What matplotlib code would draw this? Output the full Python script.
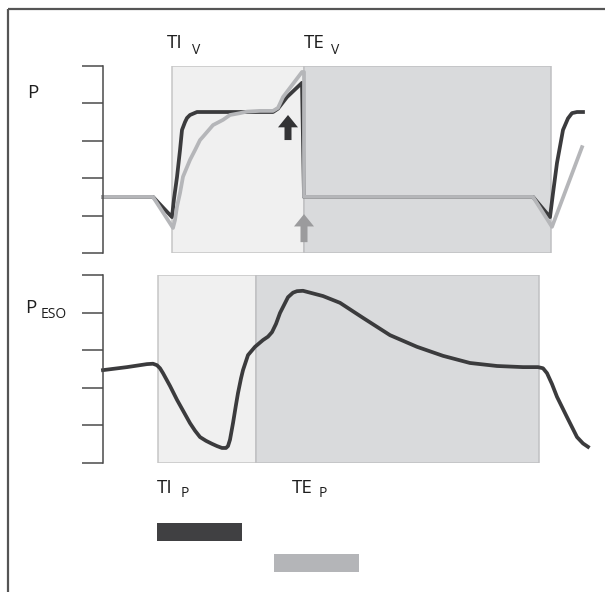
import matplotlib
matplotlib.use("Agg")
import matplotlib.pyplot as plt

plt.rcParams['font.family'] = ['Open Sans', 'DejaVu Sans']

W, H = 605, 592
DARK = "#3b3b3d"
LIGHT = "#b5b6b9"
AXC = "#4a4a4a"
TXT = "#1e1e1e"

# time axis (arbitrary units), pressure in tick units 0..5
t_ventilator = [0.00, 0.50, 0.69, 0.71, 0.74, 0.77, 0.79, 0.82, 0.84, 0.87, 0.94,
                1.70, 1.75, 1.84, 1.99, 2.01, 4.30, 4.47, 4.50, 4.54, 4.60,
                4.65, 4.69, 4.74, 4.80]
p_fast = [1.50, 1.50, 0.96, 1.45, 2.03, 2.75, 3.29, 3.50, 3.61, 3.69, 3.77,
          3.77, 3.86, 4.17, 4.55, 1.50, 1.50, 0.96, 1.60, 2.41, 3.29,
          3.60, 3.74, 3.77, 3.77]

t_slow = [0.00, 0.50, 0.70, 0.72, 0.74, 0.77, 0.80, 0.87, 0.92, 0.97, 1.00,
          1.10, 1.20, 1.27, 1.37, 1.44, 1.57, 1.70, 1.75, 1.80, 1.99, 2.01,
          2.01, 4.30, 4.49, 4.79]
p_slow = [1.50, 1.50, 0.67, 0.88, 1.24, 1.60, 2.04, 2.49, 2.75, 3.02, 3.11,
          3.42, 3.56, 3.69, 3.74, 3.78, 3.80, 3.80, 3.88, 4.17, 4.84, 4.84,
          1.50, 1.50, 0.70, 2.83]

t_eso = [0.00, 0.24, 0.44, 0.50, 0.54, 0.57, 0.60, 0.67, 0.74, 0.87, 0.92,
         0.97, 1.03, 1.09, 1.14, 1.19, 1.23, 1.25, 1.27, 1.30, 1.33, 1.35,
         1.38, 1.40, 1.45, 1.52, 1.60, 1.65, 1.69, 1.73, 1.77, 1.85, 1.90,
         1.94, 2.00, 2.20, 2.37, 2.60, 2.87, 3.14, 3.40, 3.67, 3.94, 4.20,
         4.35, 4.40, 4.44, 4.49, 4.54, 4.64, 4.74, 4.80, 4.85]
p_eso = [2.47, 2.55, 2.63, 2.64, 2.60, 2.52, 2.39, 2.05, 1.68, 1.06, 0.86,
         0.69, 0.59, 0.51, 0.45, 0.40, 0.40, 0.45, 0.62, 1.06, 1.55, 1.86,
         2.25, 2.47, 2.87, 3.09, 3.27, 3.36, 3.48, 3.70, 3.99, 4.41, 4.53,
         4.57, 4.58, 4.44, 4.26, 3.86, 3.40, 3.09, 2.85, 2.66, 2.58, 2.55,
         2.55, 2.52, 2.39, 2.10, 1.76, 1.22, 0.69, 0.52, 0.43]

# phases: (start, end)
vent_insp = (0.69, 2.01)
vent_exp = (2.01, 4.48)
pat_insp = (0.55, 1.53)
pat_exp = (1.53, 4.36)

# arrows: x, base, tip
arrow_x = [1.85, 2.01]
arrow_base = [3.02, 0.29]
arrow_tip = [3.69, 1.04]

# time bars below
bar_left = [0.54, 1.71]
bar_width = [0.85, 0.85]

ticks = [0, 1, 2, 3, 4, 5]
XMAX = 5.02

fig = plt.figure(figsize=(W / 100, H / 100), dpi=100)

bg = fig.add_axes([0, 0, 1, 1])
bg.set_xlim(0, W)
bg.set_ylim(H, 0)
bg.axis('off')
bg.plot([8, W], [9, 9], color="#555555", lw=1.6, solid_capstyle='butt')
bg.plot([8, 8], [9, H], color="#555555", lw=1.6, solid_capstyle='butt')


def panel(top, bottom):
    ax = fig.add_axes([103 / W, (H - bottom) / H, (W - 103) / W, (bottom - top) / H])
    ax.set_xlim(0, XMAX)
    ax.set_ylim(0, 5)
    ax.patch.set_visible(False)
    for s in ['top', 'right', 'bottom']:
        ax.spines[s].set_visible(False)
    ax.spines['left'].set_color(AXC)
    ax.spines['left'].set_linewidth(1.1)
    ax.spines['left'].set_zorder(5)
    ax.set_xticks([])
    ax.set_yticks(ticks)
    ax.set_yticklabels([])
    ax.tick_params(axis='y', direction='out', length=15, width=1.1, color=AXC)
    return ax


def phases(ax, insp, exp):
    ax.axvspan(insp[0], insp[1], 0, 1, facecolor="#f0f0f0", edgecolor="#c6c6c6", lw=1.1, zorder=0)
    ax.axvspan(exp[0], exp[1], 0, 1, facecolor="#d9dadc", edgecolor="#c0c0c2", lw=1.1, zorder=0)


ax1 = panel(66, 253)
phases(ax1, vent_insp, vent_exp)
ax1.plot(t_ventilator, p_fast, color=DARK, lw=2.7, solid_joinstyle='round', zorder=3, clip_on=False)
ax1.plot(t_slow, p_slow, color=LIGHT, lw=2.7, solid_joinstyle='round', zorder=4, clip_on=False)
for x, b, tip, c in zip(arrow_x, arrow_base, arrow_tip, ["#333335", "#9b9b9d"]):
    ax1.arrow(x, b, 0, tip - b, width=0.07, head_width=0.2, head_length=0.33,
              length_includes_head=True, color=c, lw=0, zorder=6)

ax2 = panel(275, 463)
phases(ax2, pat_insp, pat_exp)
ax2.plot(t_eso, p_eso, color=DARK, lw=2.7, solid_joinstyle='round', zorder=3, clip_on=False)

ax3 = fig.add_axes([103 / W, (H - 578.5) / H, (W - 103) / W, 62 / H])
ax3.set_xlim(0, XMAX)
ax3.set_ylim(1.5, -0.5)
ax3.axis('off')
ax3.barh([0, 1], bar_width, left=bar_left, height=0.58, color=["#404042", "#b4b5b8"])

# labels
fs, fss = 13.5, 10
bg.text(27, 98, "P", fontsize=fs, color=TXT, va='baseline')
bg.text(167, 48, "TI", fontsize=fs, color=TXT, va='baseline')
bg.text(192, 54, "V", fontsize=fss, color=TXT, va='baseline')
bg.text(304, 48, "TE", fontsize=fs, color=TXT, va='baseline')
bg.text(331, 54, "V", fontsize=fss, color=TXT, va='baseline')
bg.text(25, 313, "P", fontsize=fs, color=TXT, va='baseline')
bg.text(41, 318, "ESO", fontsize=fss, color=TXT, va='baseline')
bg.text(157, 493, "TI", fontsize=fs, color=TXT, va='baseline')
bg.text(181, 497, "P", fontsize=fss, color=TXT, va='baseline')
bg.text(292, 493, "TE", fontsize=fs, color=TXT, va='baseline')
bg.text(319, 497, "P", fontsize=fss, color=TXT, va='baseline')

fig.savefig("out.png", dpi=100)
